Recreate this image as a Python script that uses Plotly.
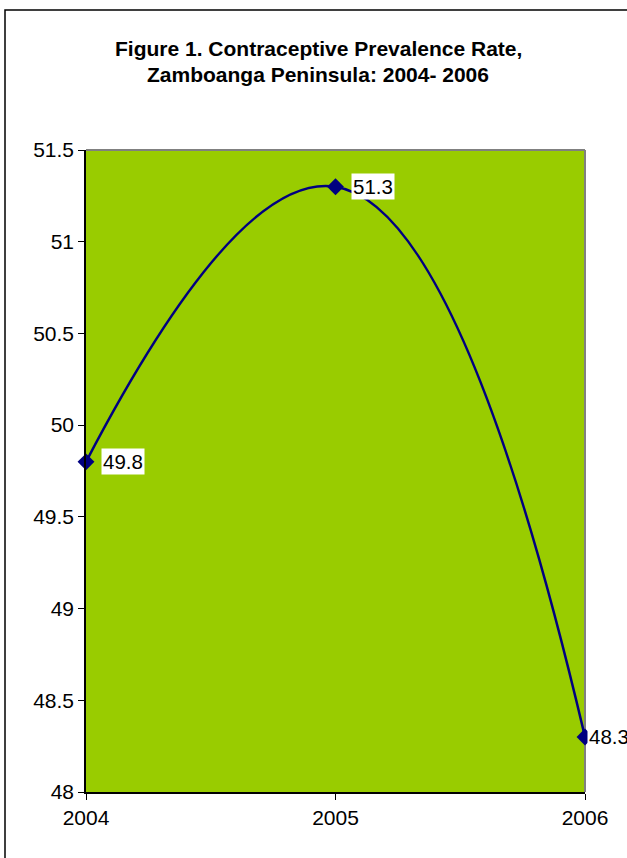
import plotly.graph_objects as go

years = [2004, 2005, 2006]
rates = [49.8, 51.3, 48.3]
label_text = ["49.8", "51.3", "48.3"]
y_ticks = [48, 48.5, 49, 49.5, 50, 50.5, 51, 51.5]
y_tick_labels = ["48", "48.5", "49", "49.5", "50", "50.5", "51", "51.5"]
title_lines = ["Figure 1. Contraceptive Prevalence Rate,", "Zamboanga Peninsula: 2004- 2006"]

W, H = 627, 858
L, R, T, B = 86, 42, 150, 66
pw, ph = W - L - R, H - T - B
FONT = "Liberation Sans, Arial"

fig = go.Figure()
fig.add_trace(go.Scatter(
    x=years, y=rates, mode="lines+markers",
    line=dict(color="#000080", width=2.5, shape="spline", smoothing=1.3),
    marker=dict(symbol="diamond", size=13, color="#000080"),
    cliponaxis=False, hoverinfo="skip", showlegend=False,
))

for xv, yv, t in zip(years, rates, label_text):
    fig.add_annotation(x=xv, y=yv, xref="x", yref="y", text=t, showarrow=False,
                       xanchor="left", xshift=2 if xv == 2006 else 15,
                       bgcolor="white", borderpad=1,
                       font=dict(family=FONT, size=20.5, color="black"))

def px_x(p):
    return (p - L) / pw

def px_y(p):
    return 1 - (p - T) / ph

# outer chart border
fig.add_shape(type="rect", xref="paper", yref="paper",
              x0=px_x(5), x1=px_x(640), y0=px_y(870), y1=px_y(10),
              line=dict(color="black", width=1.5), layer="below")
# plot-area top/right gray border
fig.add_shape(type="line", xref="paper", yref="paper", x0=0, x1=1, y0=1, y1=1,
              line=dict(color="#808080", width=2))
fig.add_shape(type="line", xref="paper", yref="paper", x0=1, x1=1, y0=0, y1=1,
              line=dict(color="#808080", width=2), layer="below")

for line_text, ypx in zip(title_lines, [48, 75]):
    fig.add_annotation(xref="paper", yref="paper", x=px_x(318), y=px_y(ypx),
                       text="<b>" + line_text + "</b>",
                       showarrow=False, xanchor="center", yanchor="middle",
                       font=dict(family=FONT, size=21, color="black"))

fig.update_layout(
    width=W, height=H,
    margin=dict(l=L, r=R, t=T, b=B),
    paper_bgcolor="white", plot_bgcolor="#99CC00",
    xaxis=dict(range=[2004, 2006], tickvals=years, ticktext=[str(y) for y in years],
               showgrid=False, zeroline=False, showline=True, linecolor="black", linewidth=1.5,
               ticks="outside", ticklen=6, tickcolor="black",
               tickfont=dict(family=FONT, size=21, color="black")),
    yaxis=dict(range=[48, 51.5], tickvals=y_ticks, ticktext=y_tick_labels,
               showgrid=False, zeroline=False, showline=True, linecolor="black", linewidth=1.5,
               ticks="outside", ticklen=6, tickcolor="black",
               tickfont=dict(family=FONT, size=21, color="black")),
)

fig.write_html("out.html", config={"displayModeBar": False},
               post_script="document.body.style.margin='0';document.body.style.overflow='hidden';")
